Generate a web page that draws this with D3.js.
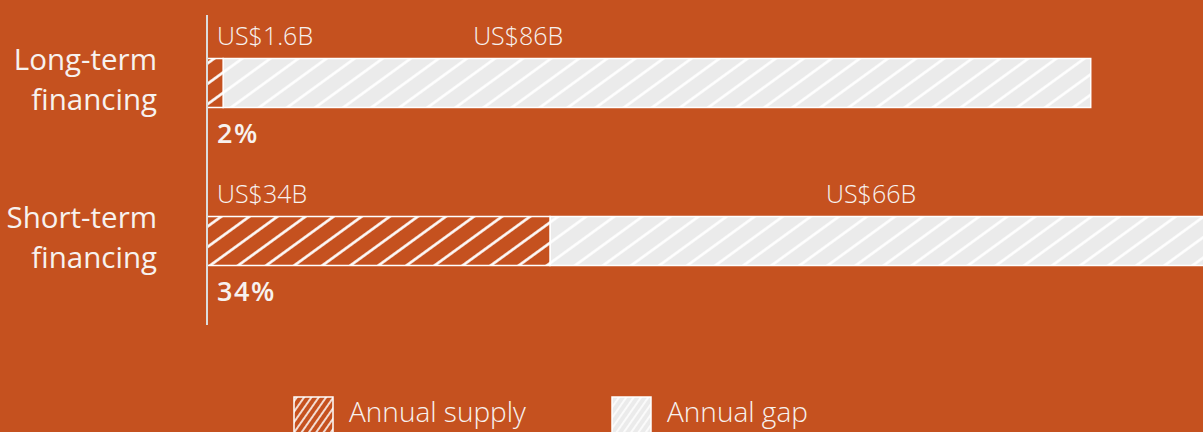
<!DOCTYPE html>
<html><head><meta charset="utf-8">
<script src="https://cdn.jsdelivr.net/npm/d3@7"></script>
<style>html,body{margin:0;padding:0;background:#c5511f;overflow:hidden}svg{display:block}</style>
</head><body>
<svg id="c" width="1203" height="432"></svg>
<script>
const categories = [["Long-term","financing"],["Short-term","financing"]];
const supply = [1.6, 34];
const gap = [86, 66];
const supplyLabels = ["US$1.6B","US$34B"];
const gapLabels = ["US$86B","US$66B"];
const shareLabels = ["2%","34%"];
const legendLabels = ["Annual supply","Annual gap"];

const W=1203,H=432,BG="#c5511f",GREY="#ebebeb",TXT="#f7f2ef";
const svg=d3.select("#c");
svg.append("rect").attr("width",W).attr("height",H).attr("fill",BG);
const defs=svg.append("defs");
function pat(id,fill,angle,sp,sw){
  const p=defs.append("pattern").attr("id",id).attr("patternUnits","userSpaceOnUse")
    .attr("width",sp).attr("height",sp).attr("patternTransform",`rotate(${angle})`);
  p.append("rect").attr("width",sp).attr("height",sp).attr("fill",fill);
  p.append("line").attr("x1",sp/2).attr("x2",sp/2).attr("y1",-1).attr("y2",sp+1).attr("stroke","#fff").attr("stroke-width",sw);
}
pat("ps",BG,54,16.5,2.6);
pat("pg",GREY,54,16.5,2.6);
pat("lps",BG,35,6,1.6);
pat("lpg",GREY,35,6,1.6);

const x0=207;
const x=d3.scaleLinear().domain([0,34]).range([x0,550]);
const y=d3.scaleBand().domain(d3.range(categories.length)).range([4,320]).paddingInner(0.69).paddingOuter(0.345);
const font="'Open Sans', sans-serif";

const g=svg.append("g");
categories.forEach((c,i)=>{
  const by=y(i),bh=y.bandwidth();
  g.append("rect").attr("x",x(supply[i])).attr("y",by).attr("width",x(supply[i]+gap[i])-x(supply[i])).attr("height",bh)
    .attr("fill","url(#pg)").attr("stroke","#fff").attr("stroke-width",1.5);
  g.append("rect").attr("x",x(0)).attr("y",by).attr("width",x(supply[i])-x(0)).attr("height",bh)
    .attr("fill","url(#ps)").attr("stroke","#fff").attr("stroke-width",1.5);
  g.append("text").attr("x",x0+10).attr("y",by-14).text(supplyLabels[i])
    .attr("fill",TXT).attr("font-family",font).attr("font-weight",300).attr("font-size",25);
  const gx = i===0 ? x(supply[i])+250 : x(supply[i])+276;
  g.append("text").attr("x",gx).attr("y",by-14).text(gapLabels[i])
    .attr("fill",TXT).attr("font-family",font).attr("font-weight",300).attr("font-size",25);
  g.append("text").attr("x",x0+10).attr("y",by+bh+36).text(shareLabels[i])
    .attr("fill",TXT).attr("font-family",font).attr("font-weight",600).attr("font-size",27).attr("letter-spacing",1.5);
  const t=g.append("text").attr("text-anchor","end").attr("fill",TXT).attr("font-family",font).attr("font-weight",400).attr("font-size",29.5);
  c.forEach((line,k)=>t.append("tspan").attr("x",157).attr("y",by+bh/2-13+k*40).text(line));
});
svg.append("line").attr("x1",x0).attr("x2",x0).attr("y1",15).attr("y2",325).attr("stroke","#dcdcdc").attr("stroke-width",2);

const leg=[{x:294,f:"url(#lps)"},{x:612,f:"url(#lpg)"}];
leg.forEach((l,i)=>{
  svg.append("rect").attr("x",l.x).attr("y",397).attr("width",39).attr("height",40).attr("fill",l.f).attr("stroke","#fff").attr("stroke-width",1.5);
  svg.append("text").attr("x",l.x+55).attr("y",422).text(legendLabels[i]).attr("fill",TXT).attr("font-family",font).attr("font-weight",300).attr("font-size",28);
});
</script>
</body></html>
